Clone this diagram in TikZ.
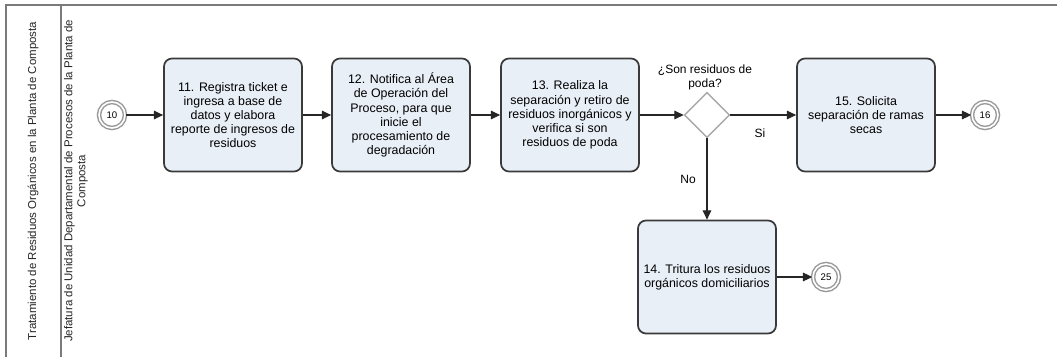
\documentclass[tikz,border=0pt]{standalone}
\usepackage{fontspec}
\setmainfont{Liberation Sans}
\usetikzlibrary{arrows.meta,shapes.geometric}

\definecolor{taskfill}{HTML}{E9EFF7}
\definecolor{taskline}{HTML}{3A3A3A}
\definecolor{eventline}{HTML}{9A9A9A}
\definecolor{gwline}{HTML}{A8A8A8}
\definecolor{frameline}{HTML}{7A7A7A}
\definecolor{flowline}{HTML}{262626}

\begin{document}
\begin{tikzpicture}[x=0.75pt,y=-0.75pt,
  task/.style={draw=taskline, line width=1.3pt, fill=taskfill,
    rounded corners=6pt, minimum width=103.5pt, minimum height=84.75pt,
    align=center, inner sep=1pt, font=\fontsize{9.3}{10.6}\selectfont},
  linkevent/.style={circle, draw=eventline, line width=1.1pt,
    double=white, double distance=1.2pt, fill=white,
    minimum size=19.5pt, inner sep=0pt, font=\fontsize{7.2}{8}\selectfont},
  gateway/.style={diamond, draw=gwline, line width=1pt, fill=white,
    minimum width=34pt, minimum height=34pt, inner sep=0pt},
  flow/.style={draw=flowline, line width=0.8pt,
    -{Triangle[length=7pt,width=6.5pt]}},
  lbl/.style={align=center, inner sep=1pt, font=\fontsize{9}{10.6}\selectfont},
  lanetext/.style={rotate=90, align=center, inner sep=0pt,
    font=\fontsize{8.6}{9.8}\selectfont, text=black!85},
  frame/.style={draw=frameline, line width=0.8pt}
]
\useasboundingbox (0,0) rectangle (1057,357);

% pool and lane frame
\coordinate (tl) at (6,5);
\coordinate (tr) at (1057,5);
\coordinate (bl) at (6,357);
\coordinate (dt) at (61,5);
\coordinate (db) at (61,357);
\draw[frame] (bl) -- (tl) -- (tr);
\draw[frame] (dt) -- (db);

\node[lanetext] (pool) at (33,181)
  {Tratamiento de Residuos Orgánicos en la Planta de Composta};
\node[lanetext] (lane) at (76,181)
  {Jefatura de Unidad Departamental de Procesos de la Planta de\\Composta};

% flow elements
\node[linkevent] (e10) at (112,115) {10};
\node[task] (t11) at (233,115)
  {11. Registra ticket e\\ingresa a base de\\datos y elabora\\reporte de ingresos de\\residuos};
\node[task] (t12) at (401,115)
  {12. Notifica al Área\\de Operación del\\Proceso, para que\\inicie el\\procesamiento de\\degradación};
\node[task] (t13) at (570,115)
  {13. Realiza la\\separación y retiro de\\residuos inorgánicos y\\verifica si son\\residuos de poda};
\node[gateway] (gw) at (707,115) {};
\node[lbl] (gwq) at (705,77) {¿Son residuos de\\poda?};
\node[task] (t15) at (866,115)
  {15. Solicita\\separación de ramas\\secas};
\node[linkevent] (e16) at (985,115) {16};
\node[task] (t14) at (707,277)
  {14. Tritura los residuos\\orgánicos domiciliarios};
\node[linkevent] (e25) at (826,277) {25};

% sequence flows
\draw[flow] (e10) -- (t11);
\draw[flow] (t11) -- (t12);
\draw[flow] (t12) -- (t13);
\draw[flow] (t13) -- (gw);
\draw[flow] (gw.east) -- node[lbl, below=9pt, pos=0.45] (si) {Si} (t15);
\draw[flow] (t15) -- (e16);
\draw[flow] (gw.south) -- node[lbl, left=7pt, pos=0.5] (no) {No} (t14.north);
\draw[flow] (t14) -- (e25);
\end{tikzpicture}
\end{document}
